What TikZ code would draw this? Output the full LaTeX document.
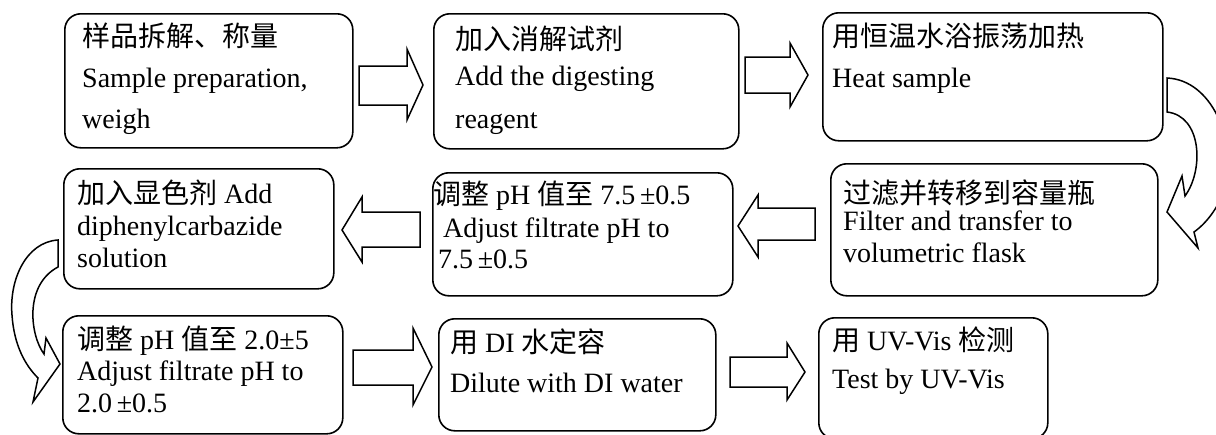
\documentclass[tikz,border=0pt]{standalone}
\usepackage{fontspec}
\setmainfont{Liberation Serif}
\newfontfamily\cjk{Noto Sans CJK SC}
\begin{document}
\begin{tikzpicture}[x=1pt,y=-1pt,
  box/.style={draw, line width=1.6pt, rounded corners=16pt, anchor=north west, inner sep=0pt},
  txt/.style={anchor=base west, inner sep=0pt, font=\fontsize{28}{30}\selectfont},
  barrow/.style={draw, line width=1.5pt, fill=white, line join=miter},
  carrow/.style={draw, line width=1.5pt, fill=white, line join=miter}]
\useasboundingbox (0,0) rectangle (1216,434);
\fill[white] (0,0) rectangle (1216,434);
% boxes
\node[box, minimum width=288pt, minimum height=134pt] (b1) at (64,13) {};
\node[box, minimum width=305pt, minimum height=135pt] (b2) at (433,13) {};
\node[box, minimum width=340pt, minimum height=128pt] (b3) at (822,12) {};
\node[box, minimum width=270pt, minimum height=120pt] (b4) at (63,168) {};
\node[box, minimum width=300pt, minimum height=123pt] (b5) at (432,172) {};
\node[box, minimum width=327pt, minimum height=132pt] (b6) at (830,163) {};
\node[box, minimum width=280pt, minimum height=118pt] (b7) at (62,315) {};
\node[box, minimum width=277pt, minimum height=112pt] (b8) at (438,318) {};
\node[box, minimum width=229pt, minimum height=121pt] (b9) at (818,317) {};
% texts
\node[txt] (t1a) at (82,46) {\cjk 样品拆解、称量};
\node[txt] (t1b) at (82,87) {Sample preparation,};
\node[txt] (t1c) at (82,128) {weigh};
\node[txt] (t2a) at (455,49) {\cjk 加入消解试剂};
\node[txt] (t2b) at (455,85) {Add the digesting};
\node[txt] (t2c) at (455,128) {reagent};
\node[txt] (t3a) at (832,46) {\cjk 用恒温水浴振荡加热};
\node[txt] (t3b) at (832,87) {Heat sample};
\node[txt] (t4a) at (77,203) {{\cjk 加入显色剂} Add};
\node[txt] (t4b) at (77,235) {diphenylcarbazide};
\node[txt] (t4c) at (77,267) {solution};
\node[txt] (t5a) at (433,204) {{\cjk 调整} pH {\cjk 值至} 7.5\,±0.5};
\node[txt] (t5b) at (443,237) {Adjust filtrate pH to};
\node[txt] (t5c) at (438,268) {7.5\,±0.5};
\node[txt] (t6a) at (843,203) {\cjk 过滤并转移到容量瓶};
\node[txt] (t6b) at (843,230) {Filter and transfer to};
\node[txt] (t6c) at (843,262) {volumetric flask};
\node[txt] (t7a) at (77,349) {{\cjk 调整} pH {\cjk 值至} 2.0±5};
\node[txt] (t7b) at (77,380) {Adjust filtrate pH to};
\node[txt] (t7c) at (77,412) {2.0\,±0.5};
\node[txt] (t8a) at (450,352) {{\cjk 用} DI {\cjk 水定容}};
\node[txt] (t8b) at (450,392) {Dilute with DI water};
\node[txt] (t9a) at (832,350) {{\cjk 用} UV-Vis {\cjk 检测}};
\node[txt] (t9b) at (832,388) {Test by UV-Vis};
% block arrows
\draw[barrow] (359,66) -- (407,66) -- (407,49) -- (423,85) -- (407,120) -- (407,105) -- (359,105) -- cycle;
\draw[barrow] (745,57) -- (790,57) -- (790,43) -- (808,75) -- (790,107) -- (790,93) -- (745,93) -- cycle;
\draw[barrow] (815,208) -- (758,208) -- (758,195) -- (738,226) -- (758,257) -- (758,240) -- (815,240) -- cycle;
\draw[barrow] (420,212) -- (362,212) -- (362,197) -- (342,230) -- (362,262) -- (362,247) -- (420,247) -- cycle;
\draw[barrow] (353,350) -- (413,350) -- (413,328) -- (432,367) -- (413,405) -- (413,385) -- (353,385) -- cycle;
\draw[barrow] (730,357) -- (787,357) -- (787,343) -- (805,372) -- (787,400) -- (787,387) -- (730,387) -- cycle;
% curved arrow right
\draw[carrow] (1167,78) .. controls (1212,80) and (1236,140) .. (1226,185)
  .. controls (1220,205) and (1208,222) .. (1194,232)
  -- (1198,248) -- (1167,212) -- (1182,176) -- (1185,196)
  .. controls (1204,170) and (1202,116) .. (1167,112) -- cycle;
% curved arrow left
\draw[carrow] (58,240) .. controls (26,242) and (9,280) .. (12,315)
  .. controls (14,345) and (25,365) .. (38,378)
  -- (33,402) -- (60,364) -- (46,338) -- (44,354)
  .. controls (30,335) and (24,285) .. (58,267) -- cycle;
\end{tikzpicture}
\end{document}
